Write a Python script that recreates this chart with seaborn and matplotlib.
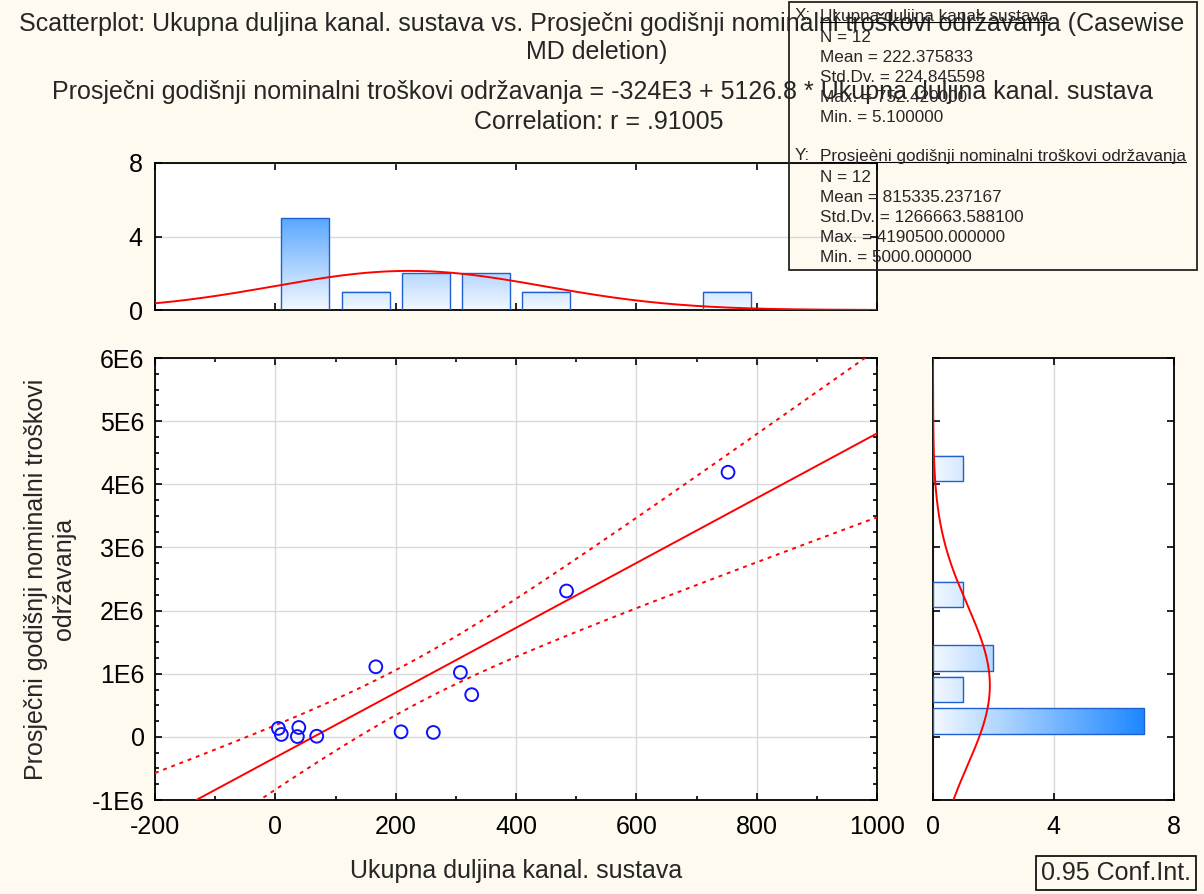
import numpy as np
import matplotlib.pyplot as plt
import matplotlib.patches as mpatches
from matplotlib.lines import Line2D
from matplotlib.colors import LinearSegmentedColormap
from matplotlib.ticker import MultipleLocator, FuncFormatter, NullFormatter
import seaborn as sns

# data
duljina = [5.1, 10.0, 39.0, 36.6, 68.8, 167.0, 209.0, 262.6, 307.6, 326.4, 484.0, 752.42]
troskovi = [134000, 38000, 148500, 5000, 10000, 1110000, 80000, 70000, 1020000, 668000, 2310000, 4190500]

x_name = 'Ukupna duljina kanal. sustava'
y_name = 'Prosječni godišnji nominalni troškovi održavanja'
x_stats = ['N = 12', 'Mean = 222.375833', 'Std.Dv. = 224.845598', 'Max. = 752.420000', 'Min. = 5.100000']
y_stats = ['N = 12', 'Mean = 815335.237167', 'Std.Dv. = 1266663.588100', 'Max. = 4190500.000000',
           'Min. = 5000.000000']
x_bins = np.arange(0, 900, 100)
y_bins = np.arange(0, 4.5e6 + 1, 0.5e6)

BG = '#fffaf0'
EDGE = '#1f5fd0'
GRID = '#d9d9d9'
W, H = 1204, 894
FS = 18      # main text size
FS_BOX = 12.3  # stats box text

sns.set_style('white')
plt.rcParams['font.family'] = ['Liberation Sans', 'DejaVu Sans']
plt.rcParams['axes.unicode_minus'] = False

cmap = LinearSegmentedColormap.from_list('statblue', ['#f2f8ff', '#1f88ff'])

fig = plt.figure(figsize=(W / 100, H / 100), dpi=100, facecolor=BG)


def box(l, t, r, b):
    return [l / W, 1 - b / H, (r - l) / W, (b - t) / H]


ax = fig.add_axes(box(155, 358, 877, 800))
ax_top = fig.add_axes(box(155, 163, 877, 310), facecolor='none')
ax_right = fig.add_axes(box(933, 358, 1174, 800))

# white background of top histogram, stats box sits above it
fig.patches.append(mpatches.Rectangle((155 / W, 1 - 310 / H), 722 / W, 147 / H, transform=fig.transFigure,
                                      facecolor='white', edgecolor='none', zorder=-2))
fig.patches.append(mpatches.Rectangle((789 / W, 1 - 270 / H), 408 / W, 268 / H, transform=fig.transFigure,
                                      facecolor=BG, edgecolor='none', zorder=-1))


def gradient_bars(a, vertical):
    for p in list(a.patches):
        x0, y0, w, h = p.get_x(), p.get_y(), p.get_width(), p.get_height()
        v = h if vertical else w
        if v <= 0:
            p.remove()
            continue
        p.set_facecolor('none')
        p.set_edgecolor(EDGE)
        p.set_linewidth(1.0)
        p.set_zorder(3)
        grad = np.linspace(0, v, 64)
        img = grad.reshape(-1, 1) if vertical else grad.reshape(1, -1)
        a.imshow(img, cmap=cmap, vmin=0, vmax=7, extent=(x0, x0 + w, y0, y0 + h), origin='lower',
                 aspect='auto', zorder=2, interpolation='bilinear')


n = len(duljina)
xa = np.array(duljina)
ya = np.array(troskovi, dtype=float)

# top histogram
sns.histplot(x=duljina, bins=x_bins, shrink=0.8, ax=ax_top)
gradient_bars(ax_top, True)
xs = np.linspace(-200, 1000, 400)
mx, sx = xa.mean(), xa.std(ddof=1)
ax_top.plot(xs, n * 100 * np.exp(-0.5 * ((xs - mx) / sx) ** 2) / (sx * np.sqrt(2 * np.pi)),
            color='red', lw=1.4, zorder=4)
ax_top.set_xlim(-200, 1000)
ax_top.set_ylim(0, 8)
ax_top.xaxis.set_major_locator(MultipleLocator(200))
ax_top.xaxis.set_major_formatter(NullFormatter())
ax_top.yaxis.set_major_locator(MultipleLocator(4))
ax_top.grid(axis='y', color=GRID, lw=1)
ax_top.set_axisbelow(True)
ax_top.set_xlabel('')
ax_top.set_ylabel('')

# right histogram
sns.histplot(y=troskovi, bins=y_bins, shrink=0.8, ax=ax_right)
gradient_bars(ax_right, False)
ys = np.linspace(-1e6, 6e6, 400)
my, sy = ya.mean(), ya.std(ddof=1)
ax_right.plot(n * 0.5e6 * np.exp(-0.5 * ((ys - my) / sy) ** 2) / (sy * np.sqrt(2 * np.pi)), ys,
              color='red', lw=1.4, zorder=4)
ax_right.set_xlim(0, 8)
ax_right.set_ylim(-1e6, 6e6)
ax_right.xaxis.set_major_locator(MultipleLocator(4))
ax_right.yaxis.set_major_locator(MultipleLocator(1e6))
ax_right.yaxis.set_major_formatter(NullFormatter())
ax_right.grid(axis='x', color=GRID, lw=1)
ax_right.set_axisbelow(True)
ax_right.set_xlabel('')
ax_right.set_ylabel('')

# scatter with fit and 95% confidence band
sns.scatterplot(x=duljina, y=troskovi, ax=ax, marker='o', s=85, facecolors='none', edgecolor='#1010ff',
                linewidth=1.4, zorder=5)
b, a0 = np.polyfit(xa, ya, 1)
resid = ya - (a0 + b * xa)
s_err = np.sqrt((resid ** 2).sum() / (n - 2))
sxx = ((xa - mx) ** 2).sum()
t975 = 2.228
xl = np.linspace(-200, 1000, 300)
fit = a0 + b * xl
half = t975 * s_err * np.sqrt(1 / n + (xl - mx) ** 2 / sxx)
ax.plot(xl, fit, color='red', lw=1.4, zorder=4)
ax.plot(xl, fit + half, color='red', lw=1.4, ls=(0, (2, 2.5)), zorder=4)
ax.plot(xl, fit - half, color='red', lw=1.4, ls=(0, (2, 2.5)), zorder=4)
ax.set_xlim(-200, 1000)
ax.set_ylim(-1e6, 6e6)
ax.xaxis.set_major_locator(MultipleLocator(200))
ax.xaxis.set_minor_locator(MultipleLocator(100))
ax.yaxis.set_major_locator(MultipleLocator(1e6))
ax.yaxis.set_minor_locator(MultipleLocator(0.25e6))
ax.yaxis.set_major_formatter(FuncFormatter(lambda v, p: '0' if abs(v) < 1 else f'{v / 1e6:.0f}E6'))
ax.grid(which='major', color=GRID, lw=1)
ax.set_axisbelow(True)
ax.set_xlabel(x_name, fontsize=FS)
ax.set_ylabel('Prosječni godišnji nominalni troškovi\nodržavanja', fontsize=FS)
ax.xaxis.set_label_coords(0.5, -0.133)
ax.yaxis.set_label_coords(-0.11, 0.5)

for a in (ax, ax_top, ax_right):
    if a is not ax_top:
        a.set_facecolor('white')
    for sp in a.spines.values():
        sp.set_visible(True)
        sp.set_color('black')
        sp.set_linewidth(1.3)
    a.tick_params(which='both', direction='in', top=True, right=True, bottom=True, left=True,
                  labelsize=FS, colors='black', width=1.2)
    a.tick_params(which='major', length=5)
    a.tick_params(which='minor', length=3)
ax.tick_params(axis='x', pad=11)
ax.tick_params(axis='y', pad=7.5)
ax_top.tick_params(axis='y', pad=9)
ax_right.tick_params(axis='x', pad=11)

# titles
fig.text(0.5, 1 - 24 / H, 'Scatterplot: ' + x_name + ' vs. ' + y_name + ' (Casewise', ha='center', va='center',
         fontsize=FS)
fig.text(0.496, 1 - 52 / H, 'MD deletion)', ha='center', va='center', fontsize=FS)
fig.text(0.5, 1 - 92 / H, y_name + ' = -324E3 + 5126.8 * ' + x_name, ha='center', va='center', fontsize=FS)
fig.text(0.497, 1 - 122 / H, 'Correlation: r = .91005', ha='center', va='center', fontsize=FS)

# descriptive statistics box
fig.patches.append(mpatches.Rectangle((789 / W, 1 - 270 / H), 408 / W, 268 / H, transform=fig.transFigure,
                                      facecolor='none', edgecolor='#222222', lw=1.3, zorder=2))
fig.text(795 / W, 1 - 16 / H, 'X:', ha='left', va='center', fontsize=FS_BOX, zorder=4)
nx = fig.text(820 / W, 1 - 16 / H, x_name, ha='left', va='center', fontsize=FS_BOX, zorder=4)
for i, s in enumerate(x_stats):
    fig.text(820 / W, 1 - (37 + 20.2 * i) / H, s, ha='left', va='center', fontsize=FS_BOX, zorder=4)
fig.text(795 / W, 1 - 156 / H, 'Y:', ha='left', va='center', fontsize=FS_BOX, zorder=4)
ny = fig.text(820 / W, 1 - 156 / H, 'Prosjeèni godišnji nominalni troškovi održavanja', ha='left', va='center',
              fontsize=FS_BOX, zorder=4)
for i, s in enumerate(y_stats):
    fig.text(820 / W, 1 - (177 + 20.2 * i) / H, s, ha='left', va='center', fontsize=FS_BOX, zorder=4)

fig.text(1116 / W, 1 - 873 / H, '0.95 Conf.Int.', ha='center', va='center', fontsize=FS,
         bbox=dict(boxstyle='square,pad=0.2', facecolor=BG, edgecolor='black', lw=1.2))

fig.canvas.draw()
rend = fig.canvas.get_renderer()
for t in (nx, ny):
    bb = t.get_window_extent(rend)
    fig.add_artist(Line2D([bb.x0 / W, bb.x1 / W], [(bb.y0 + 2) / H, (bb.y0 + 2) / H], transform=fig.transFigure,
                          color='black', lw=0.8, zorder=4))

fig.savefig('out.png', dpi=100, facecolor=BG)
